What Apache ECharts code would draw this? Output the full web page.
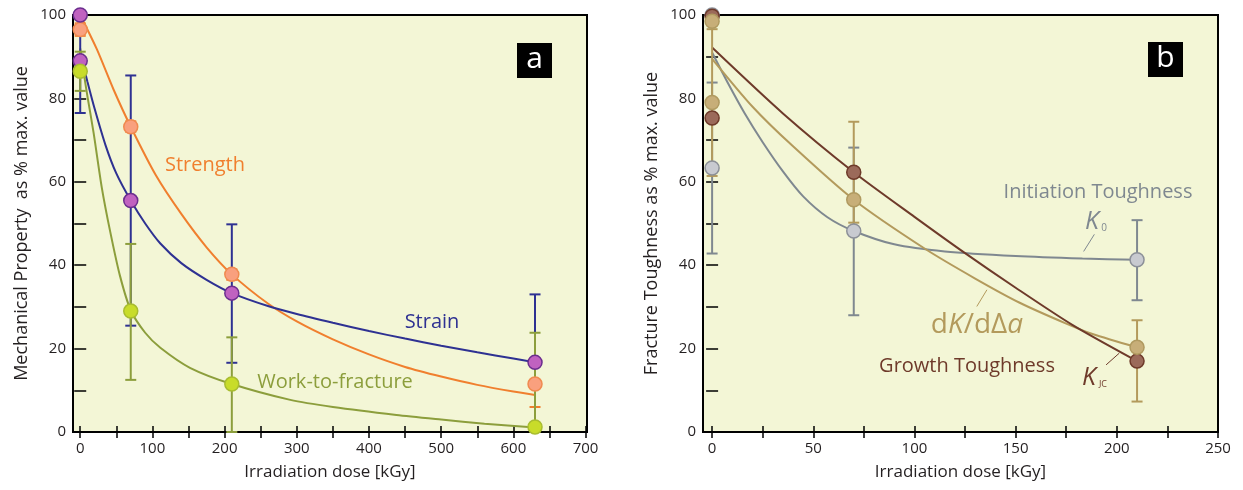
<!DOCTYPE html>
<html><head><meta charset="utf-8">
<script src="https://cdn.jsdelivr.net/npm/echarts@6/dist/echarts.min.js"></script>
<style>html,body{margin:0;padding:0;background:#fff}#c{width:1243px;height:490px}</style>
</head><body><div id="c"></div>
<script>
// ---------- Panel a data ----------
const leftXTicks = [0,50,100,150,200,250,300,350,400,450,500,550,600,650,700];
const leftXLabels = [0,100,200,300,400,500,600,700];
const rightXTicks = [0,25,50,75,100,125,150,175,200,225,250];
const rightXLabels = [0,50,100,150,200,250];
const yTicks = [0,10,20,30,40,50,60,70,80,90,100];
const yLabels = [0,20,40,60,80,100];

const strengthX = [0, 70, 210, 630];
const strengthY = [96.5, 73.2, 37.8, 11.5];
const strengthErrLo = [95, 72, 36.5, 6];
const strengthErrHi = [98, 74.5, 39, 17];
const strainX = [0, 0, 70, 210, 630];
const strainY = [100, 89, 55.5, 33.3, 16.7];
const strainErrX = [0, 70, 210, 630];
const strainErrLo = [76.5, 25.5, 16.6, 0.4];
const strainErrHi = [96, 85.5, 49.8, 33];
const workX = [0, 70, 210, 630];
const workY = [86.5, 29, 11.5, 1.2];
const workErrLo = [81.8, 12.5, 0, 0];
const workErrHi = [91.2, 45.1, 22.7, 23.8];

const strengthFitX = [0, 23, 46, 70, 105, 140, 175, 210, 260, 300, 350, 400, 450, 500, 550, 600, 630];
const strengthFitY = [100, 91.8, 82.2, 73.2, 61.5, 52.3, 44.3, 37.8, 30.8, 26.5, 22.2, 18.6, 15.6, 13.3, 11.3, 9.7, 8.9];
const strainFitX = [0, 5, 10, 20, 35, 50, 70, 90, 111, 140, 175, 210, 260, 300, 350, 400, 450, 500, 550, 600, 630];
const strainFitY = [91, 87.5, 84, 77.5, 68.8, 62, 55.5, 50, 45.2, 40.5, 36.5, 33.3, 30.2, 28.3, 26.2, 24.2, 22.4, 20.7, 19.1, 17.6, 16.7];
const workFitX = [0, 5, 10, 18.5, 30, 41.6, 55, 70, 90, 111, 152, 210, 291, 350, 438, 500, 560, 630];
const workFitY = [92, 86, 80.5, 71.8, 58.5, 48, 37.5, 29.2, 23.8, 20.2, 15.4, 11.5, 7.7, 6, 4.1, 3, 2, 1.1];

// ---------- Panel b data ----------
const k0X = [0, 0, 70, 210];
const k0Y = [100, 63.3, 48.2, 41.3];
const k0ErrX = [0, 70, 210];
const k0ErrLo = [42.8, 28, 31.6];
const k0ErrHi = [83.8, 68.2, 50.8];
const dkX = [0, 0, 70, 210];
const dkY = [98.5, 79, 55.7, 20.3];
const dkErrX = [0, 70, 210];
const dkErrLo = [61.4, 50.2, 7.3];
const dkErrHi = [96.6, 74.4, 26.8];
const kjcX = [0, 0, 70, 210];
const kjcY = [99.7, 75.3, 62.3, 17];

const k0FitX = [0, 8, 16, 25, 35, 45, 57, 70, 90, 115, 150, 183, 210];
const k0FitY = [91, 83.5, 76.5, 69.5, 62.5, 56.5, 51.5, 48.2, 45, 43.3, 42.2, 41.6, 41.3];
const dkFitX = [0, 20, 40, 70, 105, 130, 152, 175, 188, 210];
const dkFitY = [89.5, 78, 68.5, 55.7, 44, 36.8, 31, 26, 23.5, 20.3];
const kjcFitX = [0, 35, 70, 100, 125, 150, 178, 210];
const kjcFitY = [92.2, 76.4, 62.3, 51.6, 42.9, 34.6, 25.7, 17];

const FONT = "'Open Sans', 'Noto Sans', sans-serif";
const BG = '#f3f6d6';
const C = {
  strength: '#f07f2e', strengthFill: '#f9a07e', strengthBorder: '#f08a50',
  strain: '#2e3192', strainFill: '#c062c0', strainBorder: '#6b2e8e',
  work: '#8c9e3c', workFill: '#c8dc2a', workBorder: '#a8bc30',
  k0: '#7f8890', k0Fill: '#c8cad0', k0Border: '#8c9098',
  dk: '#b39a5c', dkFill: '#c7ae78', dkBorder: '#b09a60',
  kjc: '#6e3a2a', kjcFill: '#9b6a5a', kjcBorder: '#6e3a2a'
};

const zip = (a, b) => a.map((v, i) => [v, b[i]]);
const zip3 = (a, b, c) => a.map((v, i) => [v, b[i], c[i]]);

function lineSeries(xs, ys, color, gi) {
  return { type: 'line', xAxisIndex: gi * 2, yAxisIndex: gi * 2, data: zip(xs, ys),
    smooth: 0.25, showSymbol: false, symbol: 'none',
    lineStyle: { color: color, width: 2 }, z: 2, silent: true };
}
function scatterSeries(xs, ys, fill, border, gi) {
  return { type: 'scatter', xAxisIndex: gi * 2, yAxisIndex: gi * 2, data: zip(xs, ys),
    symbolSize: 14, itemStyle: { color: fill, borderColor: border, borderWidth: 1.5, opacity: 1 }, z: 5, silent: true };
}
function errSeries(xs, lo, hi, color, gi) {
  return { type: 'custom', xAxisIndex: gi * 2, yAxisIndex: gi * 2, data: zip3(xs, lo, hi), z: 3, silent: true,
    renderItem: function (params, api) {
      const x = api.value(0), l = api.value(1), h = api.value(2);
      const p1 = api.coord([x, l]), p2 = api.coord([x, h]);
      const w = 5.5, st = { stroke: color, lineWidth: 2 };
      return { type: 'group', children: [
        { type: 'line', shape: { x1: p1[0], y1: p1[1], x2: p2[0], y2: p2[1] }, style: st },
        { type: 'line', shape: { x1: p1[0] - w, y1: p1[1], x2: p1[0] + w, y2: p1[1] }, style: st },
        { type: 'line', shape: { x1: p2[0] - w, y1: p2[1], x2: p2[0] + w, y2: p2[1] }, style: st }
      ]};
    }, encode: { x: 0, y: [1, 2] } };
}
function arrowSeries(from, to, color) {
  return { type: 'line', xAxisIndex: 2, yAxisIndex: 2, data: [], silent: true,
    markLine: { silent: true, animation: false, symbol: ['none', 'arrow'], symbolSize: [0, 6],
      lineStyle: { color: color, width: 1, type: 'solid' }, label: { show: false },
      data: [[{ coord: from }, { coord: to }]] } };
}

const tickLabel = { fontFamily: FONT, fontSize: 15, color: '#231f20' };
function xAxes(min, max, ticks, labels, gi, name) {
  return [
    { type: 'value', gridIndex: gi, position: 'bottom', min: min, max: max,
      axisLine: { show: false }, splitLine: { show: false },
      axisTick: { show: true, inside: true, length: 6, customValues: ticks, lineStyle: { color: '#000', width: 1.5 } },
      axisLabel: Object.assign({ customValues: labels, margin: 9 }, tickLabel),
      name: name, nameLocation: 'middle', nameGap: 32,
      nameTextStyle: { fontFamily: FONT, fontSize: 17, color: '#231f20' } },
    { type: 'value', gridIndex: gi, position: 'top', min: min, max: max,
      axisLine: { show: false }, splitLine: { show: false }, axisLabel: { show: false },
      axisTick: { show: true, inside: true, length: 6, customValues: ticks, lineStyle: { color: '#000', width: 1.5 } } }
  ];
}
function yAxes(gi, name) {
  return [
    { type: 'value', gridIndex: gi, position: 'left', min: 0, max: 100,
      axisLine: { show: false }, splitLine: { show: false },
      axisTick: { show: true, inside: true, length: 6, customValues: yTicks, lineStyle: { color: '#000', width: 1.5 } },
      axisLabel: Object.assign({ customValues: yLabels, margin: 7 }, tickLabel),
      name: name, nameLocation: 'middle', nameGap: 42,
      nameTextStyle: { fontFamily: FONT, fontSize: 18, color: '#231f20' } },
    { type: 'value', gridIndex: gi, position: 'right', min: 0, max: 100,
      axisLine: { show: false }, splitLine: { show: false }, axisLabel: { show: false },
      axisTick: { show: true, inside: true, length: 6, customValues: yTicks, lineStyle: { color: '#000', width: 1.5 } } }
  ];
}

function txt(x, y, text, color, size, italic) {
  return { type: 'text', x: x, y: y, silent: true, z: 10,
    style: { text: text, fill: color, font: (italic ? 'italic ' : '') + size + 'px ' + FONT,
      align: 'center', verticalAlign: 'middle', textAlign: 'center', textVerticalAlign: 'middle' } };
}
function box(x, y, letter) {
  return { type: 'group', x: x, y: y, z: 10, silent: true, children: [
    { type: 'rect', shape: { x: 0, y: 0, width: 35, height: 35 }, style: { fill: '#000' } },
    { type: 'text', x: 17.5, y: 16, style: { text: letter, fill: '#fff', font: '30px ' + FONT,
      align: 'center', verticalAlign: 'middle', textAlign: 'center', textVerticalAlign: 'middle' } }
  ]};
}

const option = {
  animation: false,
  backgroundColor: '#ffffff',
  grid: [
    { left: 73, top: 15, width: 514, height: 417, show: true, backgroundColor: BG, borderColor: '#000', borderWidth: 2 },
    { left: 703, top: 15, width: 515, height: 417, show: true, backgroundColor: BG, borderColor: '#000', borderWidth: 2 }
  ],
  xAxis: [].concat(
    xAxes(-10, 702, leftXTicks, leftXLabels, 0, 'Irradiation dose [kGy]'),
    xAxes(-4.5, 250, rightXTicks, rightXLabels, 1, 'Irradiation dose [kGy]')
  ),
  yAxis: [].concat(
    yAxes(0, 'Mechanical Property  as % max. value'),
    yAxes(1, 'Fracture Toughness as % max. value')
  ),
  series: [
    lineSeries(strengthFitX, strengthFitY, C.strength, 0),
    lineSeries(strainFitX, strainFitY, C.strain, 0),
    lineSeries(workFitX, workFitY, C.work, 0),
    errSeries(strengthX, strengthErrLo, strengthErrHi, C.strength, 0),
    errSeries(strainErrX, strainErrLo, strainErrHi, C.strain, 0),
    errSeries(workX, workErrLo, workErrHi, C.work, 0),
    scatterSeries(strengthX, strengthY, C.strengthFill, C.strengthBorder, 0),
    scatterSeries(strainX, strainY, C.strainFill, C.strainBorder, 0),
    scatterSeries(workX, workY, C.workFill, C.workBorder, 0),

    lineSeries(k0FitX, k0FitY, C.k0, 1),
    lineSeries(dkFitX, dkFitY, C.dk, 1),
    lineSeries(kjcFitX, kjcFitY, C.kjc, 1),
    errSeries(k0ErrX, k0ErrLo, k0ErrHi, C.k0, 1),
    errSeries(dkErrX, dkErrLo, dkErrHi, C.dk, 1),
    scatterSeries(k0X, k0Y, C.k0Fill, C.k0Border, 1),
    scatterSeries(kjcX, kjcY, C.kjcFill, C.kjcBorder, 1),
    scatterSeries(dkX, dkY, C.dkFill, C.dkBorder, 1),
    arrowSeries([188.9, 47.4], [183.6, 43.3], C.k0),
    arrowSeries([130.8, 30.1], [135.8, 34.1], C.dk),
    arrowSeries([194.7, 16.1], [201.2, 18.9], C.kjc)
  ],
  graphic: [
    txt(205, 165, 'Strength', C.strength, 20),
    txt(432, 322, 'Strain', C.strain, 20),
    txt(335, 382, 'Work-to-fracture', C.work, 20),
    txt(1098, 192, 'Initiation Toughness', C.k0, 20),
    txt(1092, 222, 'K', C.k0, 25, true),
    txt(1104, 228, '0', C.k0, 10),
    {
      type: 'text', x: 977, y: 325, silent: true, z: 10,
      style: { text: '{n|d}{i|K}{n|/dΔ}{i|a}', fill: C.dk, font: '28px ' + FONT,
        align: 'center', verticalAlign: 'middle', textAlign: 'center', textVerticalAlign: 'middle',
        rich: { n: { fill: C.dk, color: C.dk, font: '28px ' + FONT, fontSize: 28, fontFamily: FONT },
                i: { fill: C.dk, color: C.dk, font: 'italic 28px ' + FONT, fontSize: 28, fontStyle: 'italic', fontFamily: FONT } } }
    },
    txt(967, 366, 'Growth Toughness', C.kjc, 20),
    txt(1089, 378, 'K', C.kjc, 25, true),
    txt(1103, 384, 'JC', C.kjc, 9),
    box(517, 43, 'a'),
    box(1148, 42, 'b')
  ]
};
echarts.init(document.getElementById('c')).setOption(option);
</script></body></html>
